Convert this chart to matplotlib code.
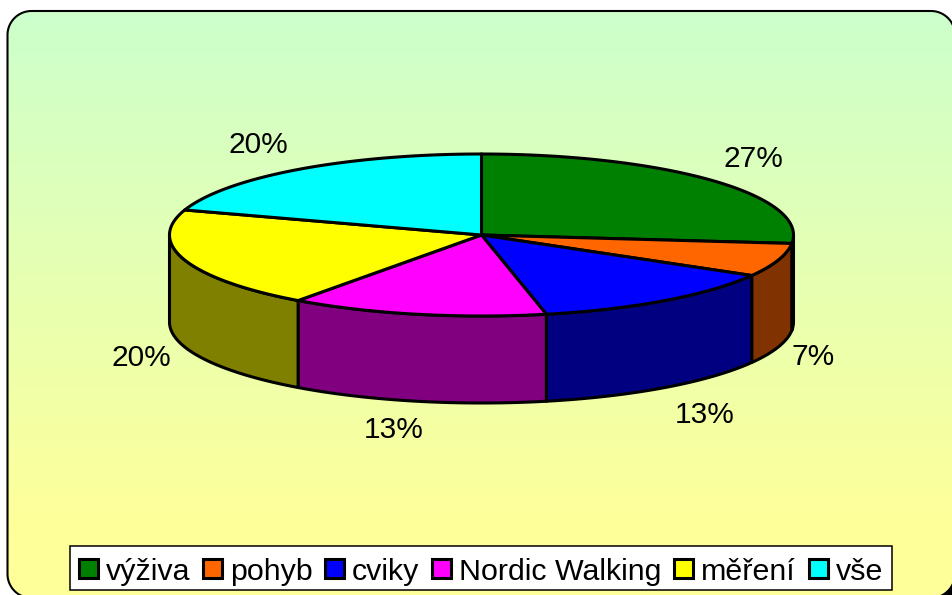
import numpy as np
import matplotlib
matplotlib.use('Agg')
import matplotlib.pyplot as plt
from matplotlib.patches import Polygon, Rectangle
from matplotlib.colors import LinearSegmentedColormap

# Chart data
categories = ['výživa', 'pohyb', 'cviky', 'Nordic Walking', 'měření', 'vše']
values = [4, 1, 2, 2, 3, 3]
percent_labels = ['27%', '7%', '13%', '13%', '20%', '20%']
top_colors = ['#008000', '#FF6600', '#0000FF', '#FF00FF', '#FFFF00', '#00FFFF']
side_colors = ['#004000', '#803300', '#000080', '#800080', '#808000', '#008080']

# Layout in picture pixels
cx, cy = 481.5, 235
rx, ry = 312, 81
depth = 87
label_pos = [(753, 159), (813, 357), (705, 415), (394, 430), (141, 358), (258, 145)]
swatch_x = [79, 203, 325, 432, 674, 809]
FONT = 'Liberation Sans'
LABEL_SIZE = 21.5
LEGEND_SIZE = 21.9
LW = 2.2
PANEL_L, PANEL_T, PANEL_R, PANEL_B = 7.5, 11, 955, 598
RADIUS = 24


def ellipse_points(start, end):
    # angles in degrees, clockwise from 12 o'clock
    t = np.radians(np.linspace(start, end, 120))
    return np.column_stack((cx + rx * np.sin(t), cy - ry * np.cos(t)))


def rounded_panel():
    # straight segments only, bezier corners get mangled past the canvas edge
    corners = [(PANEL_L + RADIUS, PANEL_T + RADIUS, 270), (PANEL_R - RADIUS, PANEL_T + RADIUS, 0),
               (PANEL_R - RADIUS, PANEL_B - RADIUS, 90), (PANEL_L + RADIUS, PANEL_B - RADIUS, 180)]
    pts = []
    for x, y, start in corners:
        t = np.radians(np.linspace(start - 90, start, 30))
        pts.append(np.column_stack((x + RADIUS * np.cos(t), y + RADIUS * np.sin(t))))
    return np.vstack(pts)


fig = plt.figure(figsize=(9.52, 5.95), dpi=100)
ax = fig.add_axes([0, 0, 1, 1])
ax.axis('off')

# The corner outside the panel is black at the bottom right
ax.add_patch(Rectangle((925, 570), 27, 25, facecolor='black', edgecolor='none', zorder=0.5))

# Rounded panel with the green to yellow gradient
panel = Polygon(rounded_panel(), closed=True, facecolor='none', edgecolor='black',
                linewidth=1.5, zorder=2)
ax.add_patch(panel)
cmap = LinearSegmentedColormap.from_list('panel', [(0, '#CCFFCC'), (0.884, '#FFFF99'), (1, '#FFFF99')])
gradient = ax.imshow(np.linspace(0, 1, 256).reshape(-1, 1), cmap=cmap, aspect='auto',
                     extent=(PANEL_L, PANEL_R, PANEL_B, PANEL_T), zorder=1)
gradient.set_clip_path(panel)
ax.set_xlim(0, 952)
ax.set_ylim(595, 0)

edges = np.cumsum([0] + values) / sum(values) * 360

# Side walls, only the front half of the ellipse shows
for i in range(len(values)):
    start = max(edges[i], 90)
    end = min(edges[i + 1], 270)
    if end <= start:
        continue
    arc = ellipse_points(start, end)
    wall = np.vstack((arc, arc[::-1] + [0, depth]))
    ax.add_patch(Polygon(wall, closed=True, facecolor=side_colors[i], edgecolor='black',
                         linewidth=LW, joinstyle='round', zorder=3))

# Top of the pie
for i in range(len(values)):
    arc = ellipse_points(edges[i], edges[i + 1])
    wedge = np.vstack(([cx, cy], arc))
    ax.add_patch(Polygon(wedge, closed=True, facecolor=top_colors[i], edgecolor='black',
                         linewidth=LW, joinstyle='round', zorder=4))

for text, (x, y) in zip(percent_labels, label_pos):
    ax.text(x, y, text, ha='center', va='center', family=FONT, fontsize=LABEL_SIZE,
            color='black', zorder=5)

# Legend
ax.add_patch(Rectangle((70, 546), 822, 44, facecolor='white', edgecolor='black',
                       linewidth=1.1, zorder=5))
for name, color, x in zip(categories, top_colors, swatch_x):
    ax.add_patch(Rectangle((x, 559), 19, 19, facecolor=color, edgecolor='black',
                           linewidth=LW, zorder=6))
    ax.text(x + 27, 568.5, name, ha='left', va='center_baseline', family=FONT,
            fontsize=LEGEND_SIZE, color='black', zorder=6)

fig.savefig('out.png', dpi=100)
